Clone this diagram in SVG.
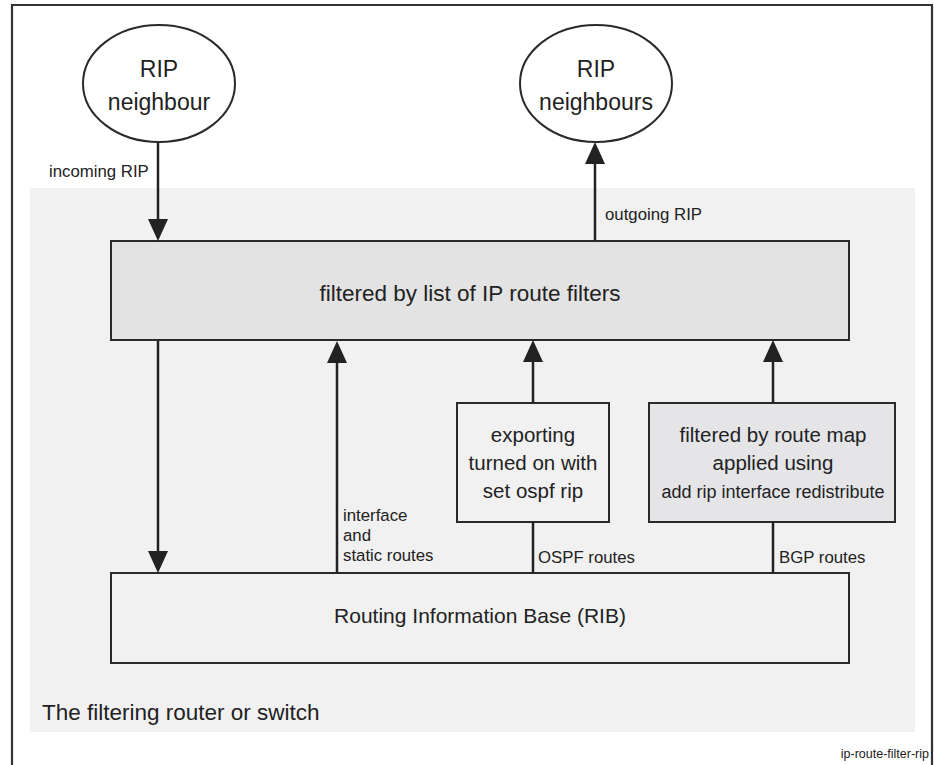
<svg xmlns="http://www.w3.org/2000/svg" width="934" height="765" viewBox="0 0 934 765">
<defs>
<style>
text{font-family:"Liberation Sans",Arial,sans-serif;fill:#222}
.box{stroke:#2a2a2a;stroke-width:2}
.conn{stroke:#222;stroke-width:2.5;fill:none}
.arr{marker-end:url(#ah)}
.big{font-size:22.5px}
.node{font-size:20.5px;text-anchor:middle}
.ell{font-size:23px;text-anchor:middle}
.lbl{font-size:16.8px}
.mid{text-anchor:middle}
</style>
<marker id="ah" markerUnits="userSpaceOnUse" markerWidth="22" markerHeight="20" refX="16" refY="10" orient="auto" viewBox="0 0 22 20">
<path d="M0,0 L22,10 L0,20 Z" fill="#222"/>
</marker>
</defs>

<path d="M12,765 V5 H932 V765" fill="none" stroke="#333" stroke-width="2.2"/>

<g id="router">
<rect x="30" y="188" width="885" height="544" fill="#f1f1f1"/>
<text class="big" x="42" y="720">The filtering router or switch</text>
</g>

<g id="rip-neighbour">
<ellipse cx="159" cy="83.5" rx="76" ry="58.5" fill="#fff" class="box"/>
<text class="ell" x="159" y="77">RIP</text>
<text class="ell" x="159" y="110">neighbour</text>
</g>

<g id="rip-neighbours">
<ellipse cx="596" cy="83.5" rx="76" ry="58.5" fill="#fff" class="box"/>
<text class="ell" x="596" y="77">RIP</text>
<text class="ell" x="596" y="110">neighbours</text>
</g>

<g id="filter">
<rect x="111" y="241" width="738" height="99" fill="#e3e3e3" class="box"/>
<text class="big mid" x="470" y="301">filtered by list of IP route filters</text>
</g>

<g id="ospf-export">
<rect x="457" y="403" width="152" height="119" fill="#f1f1f1" class="box"/>
<text class="node" x="533" y="442">exporting</text>
<text class="node" x="533" y="470">turned on with</text>
<text class="node" x="533" y="498">set ospf rip</text>
</g>

<g id="bgp-routemap">
<rect x="649" y="403" width="246" height="119" fill="#e5e5e8" class="box"/>
<text class="node" x="773" y="442">filtered by route map</text>
<text class="node" x="773" y="470">applied using</text>
<text class="node" x="773" y="498" style="font-size:18px">add rip interface redistribute</text>
</g>

<g id="rib">
<rect x="111" y="573" width="738" height="90" fill="#f1f1f1" class="box"/>
<text class="mid" x="480" y="623" style="font-size:21px">Routing Information Base (RIB)</text>
</g>

<g id="connectors">
<line class="conn arr" x1="158" y1="143" x2="158" y2="235"/>
<line class="conn arr" x1="595" y1="241" x2="595" y2="148"/>
<line class="conn arr" x1="158" y1="340" x2="158" y2="567"/>
<line class="conn arr" x1="337" y1="573" x2="337" y2="347"/>
<line class="conn arr" x1="533" y1="403" x2="533" y2="346"/>
<line class="conn arr" x1="773" y1="403" x2="773" y2="346"/>
<line class="conn" x1="533" y1="522" x2="533" y2="573"/>
<line class="conn" x1="773" y1="522" x2="773" y2="573"/>
<text class="lbl" x="49" y="177">incoming RIP</text>
<text class="lbl" x="605" y="220">outgoing RIP</text>
<text class="lbl" x="343" y="521">interface</text>
<text class="lbl" x="343" y="541">and</text>
<text class="lbl" x="343" y="561">static routes</text>
<text class="lbl" x="538" y="563">OSPF routes</text>
<text class="lbl" x="779" y="563">BGP routes</text>
</g>

<text x="929" y="758" text-anchor="end" style="font-size:12.5px">ip-route-filter-rip</text>
</svg>
